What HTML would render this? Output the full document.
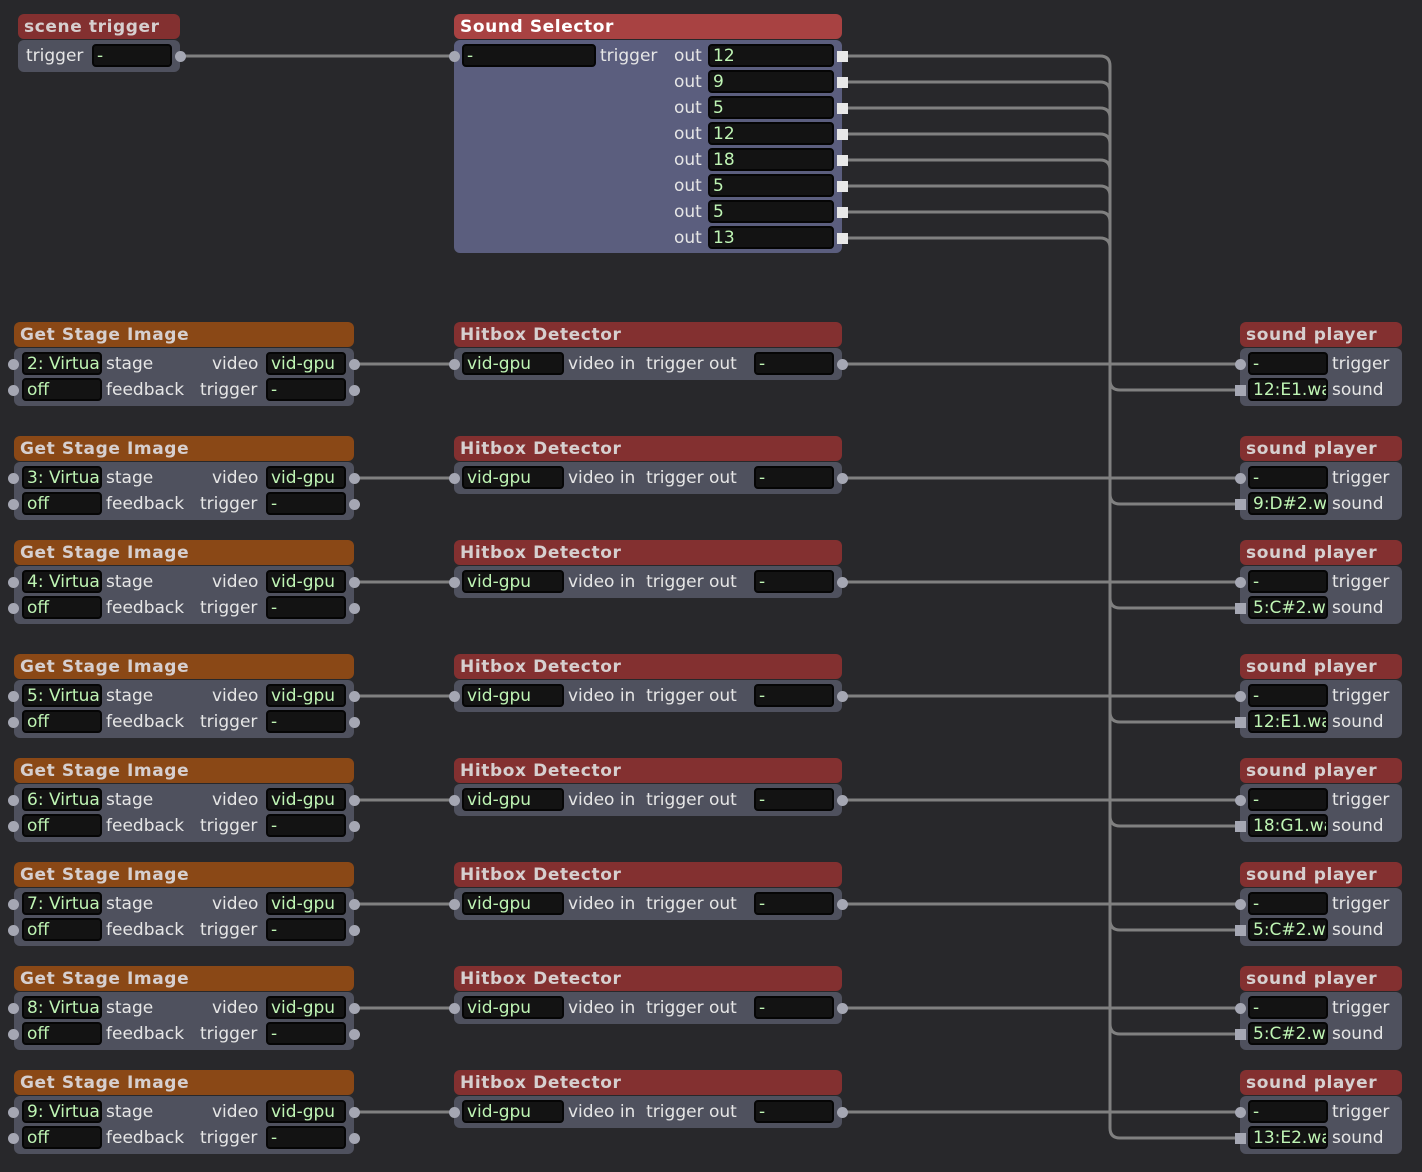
<!DOCTYPE html>
<html><head><meta charset="utf-8"><style>
body{margin:0;width:1422px;height:1172px;background:#28282b;position:relative;overflow:hidden;font-family:"DejaVu Sans","Liberation Sans",sans-serif;}
div{position:absolute;box-sizing:border-box;}
.h{height:25px;border-radius:6px;font-weight:bold;font-size:17px;color:#d6cfcf;padding-left:6px;line-height:26px;letter-spacing:.6px;white-space:nowrap}
.hr{background:#833030}.ho{background:#8a4816}
.b{background:#4f515e;border-radius:6px}
.f{height:23px;background:#131313;border:2px solid #050505;border-radius:4px;color:#bff5b4;font-size:17px;line-height:20px;padding-left:3px;white-space:nowrap;overflow:hidden}
.t{color:#e6e6e6;font-size:17px;line-height:22px;white-space:nowrap}
.d{width:11px;height:11px;border-radius:50%;background:#a5a7b3}
.s{width:11px;height:11px;background:#e8e8e8}
.sq{width:11px;height:11px;background:#a5a7b3}
svg{position:absolute;left:0;top:0}
</style></head><body>
<svg width="1422" height="1172" fill="none" stroke="#808080" stroke-width="3">
<path d="M180 56H454"/>
<path d="M846 56H1100Q1110 56 1110 66V380Q1110 390 1120 390H1240"/>
<path d="M846 82H1100Q1110 82 1110 92V494Q1110 504 1120 504H1240"/>
<path d="M846 108H1100Q1110 108 1110 118V598Q1110 608 1120 608H1240"/>
<path d="M846 134H1100Q1110 134 1110 144V712Q1110 722 1120 722H1240"/>
<path d="M846 160H1100Q1110 160 1110 170V816Q1110 826 1120 826H1240"/>
<path d="M846 186H1100Q1110 186 1110 196V920Q1110 930 1120 930H1240"/>
<path d="M846 212H1100Q1110 212 1110 222V1024Q1110 1034 1120 1034H1240"/>
<path d="M846 238H1100Q1110 238 1110 248V1128Q1110 1138 1120 1138H1240"/>
<path d="M354 364H454M842 364H1240"/>
<path d="M354 478H454M842 478H1240"/>
<path d="M354 582H454M842 582H1240"/>
<path d="M354 696H454M842 696H1240"/>
<path d="M354 800H454M842 800H1240"/>
<path d="M354 904H454M842 904H1240"/>
<path d="M354 1008H454M842 1008H1240"/>
<path d="M354 1112H454M842 1112H1240"/>
</svg>

<!-- scene trigger -->
<div class="h hr" style="left:18px;top:14px;width:162px">scene trigger</div>
<div class="b" style="left:18px;top:40px;width:162px;height:32px"></div>
<div class="t" style="left:26px;top:45px">trigger</div>
<div class="f" style="left:92px;top:44px;width:80px">-</div>
<div class="d" style="left:175px;top:51px"></div>

<!-- Sound Selector -->
<div class="h" style="left:454px;top:14px;width:388px;background:#a84242;color:#fff">Sound Selector</div>
<div class="b" style="left:454px;top:40px;width:388px;height:213px;background:#5b5e7e"></div>
<div class="d" style="left:449px;top:51px"></div>
<div class="f" style="left:462px;top:44px;width:134px">-</div>
<div class="t" style="left:600px;top:45px">trigger</div>
<div class="t" style="left:674px;top:45px">out</div><div class="f" style="left:708px;top:44px;width:126px">12</div><div class="s" style="left:837px;top:51px"></div>
<div class="t" style="left:674px;top:71px">out</div><div class="f" style="left:708px;top:70px;width:126px">9</div><div class="s" style="left:837px;top:77px"></div>
<div class="t" style="left:674px;top:97px">out</div><div class="f" style="left:708px;top:96px;width:126px">5</div><div class="s" style="left:837px;top:103px"></div>
<div class="t" style="left:674px;top:123px">out</div><div class="f" style="left:708px;top:122px;width:126px">12</div><div class="s" style="left:837px;top:129px"></div>
<div class="t" style="left:674px;top:149px">out</div><div class="f" style="left:708px;top:148px;width:126px">18</div><div class="s" style="left:837px;top:155px"></div>
<div class="t" style="left:674px;top:175px">out</div><div class="f" style="left:708px;top:174px;width:126px">5</div><div class="s" style="left:837px;top:181px"></div>
<div class="t" style="left:674px;top:201px">out</div><div class="f" style="left:708px;top:200px;width:126px">5</div><div class="s" style="left:837px;top:207px"></div>
<div class="t" style="left:674px;top:227px">out</div><div class="f" style="left:708px;top:226px;width:126px">13</div><div class="s" style="left:837px;top:233px"></div>

<!-- rows -->
<div style="left:0;top:322px;width:1422px;height:90px">
<div class="h ho" style="left:14px;top:0;width:340px">Get Stage Image</div>
<div class="b" style="left:14px;top:26px;width:340px;height:58px"></div>
<div class="d" style="left:8px;top:37px"></div><div class="d" style="left:8px;top:63px"></div>
<div class="f" style="left:22px;top:30px;width:80px">2: Virtual</div><div class="t" style="left:106px;top:31px">stage</div>
<div class="t" style="left:212px;top:31px">video</div><div class="f" style="left:266px;top:30px;width:80px">vid-gpu</div>
<div class="f" style="left:22px;top:56px;width:80px">off</div><div class="t" style="left:106px;top:57px">feedback</div>
<div class="t" style="left:200px;top:57px">trigger</div><div class="f" style="left:266px;top:56px;width:80px">-</div>
<div class="d" style="left:349px;top:37px"></div><div class="d" style="left:349px;top:63px"></div>
<div class="h hr" style="left:454px;top:0;width:388px">Hitbox Detector</div>
<div class="b" style="left:454px;top:26px;width:388px;height:32px"></div>
<div class="d" style="left:449px;top:37px"></div><div class="f" style="left:462px;top:30px;width:102px">vid-gpu</div>
<div class="t" style="left:568px;top:31px">video in&nbsp; trigger out</div><div class="f" style="left:754px;top:30px;width:80px">-</div>
<div class="d" style="left:837px;top:37px"></div>
<div class="h hr" style="left:1240px;top:0;width:162px">sound player</div>
<div class="b" style="left:1240px;top:26px;width:162px;height:58px"></div>
<div class="d" style="left:1235px;top:37px"></div><div class="sq" style="left:1235px;top:63px"></div>
<div class="f" style="left:1248px;top:30px;width:80px">-</div><div class="t" style="left:1332px;top:31px">trigger</div>
<div class="f" style="left:1248px;top:56px;width:80px">12:E1.wav</div><div class="t" style="left:1332px;top:57px">sound</div>
</div>

<div style="left:0;top:436px;width:1422px;height:90px">
<div class="h ho" style="left:14px;top:0;width:340px">Get Stage Image</div>
<div class="b" style="left:14px;top:26px;width:340px;height:58px"></div>
<div class="d" style="left:8px;top:37px"></div><div class="d" style="left:8px;top:63px"></div>
<div class="f" style="left:22px;top:30px;width:80px">3: Virtual</div><div class="t" style="left:106px;top:31px">stage</div>
<div class="t" style="left:212px;top:31px">video</div><div class="f" style="left:266px;top:30px;width:80px">vid-gpu</div>
<div class="f" style="left:22px;top:56px;width:80px">off</div><div class="t" style="left:106px;top:57px">feedback</div>
<div class="t" style="left:200px;top:57px">trigger</div><div class="f" style="left:266px;top:56px;width:80px">-</div>
<div class="d" style="left:349px;top:37px"></div><div class="d" style="left:349px;top:63px"></div>
<div class="h hr" style="left:454px;top:0;width:388px">Hitbox Detector</div>
<div class="b" style="left:454px;top:26px;width:388px;height:32px"></div>
<div class="d" style="left:449px;top:37px"></div><div class="f" style="left:462px;top:30px;width:102px">vid-gpu</div>
<div class="t" style="left:568px;top:31px">video in&nbsp; trigger out</div><div class="f" style="left:754px;top:30px;width:80px">-</div>
<div class="d" style="left:837px;top:37px"></div>
<div class="h hr" style="left:1240px;top:0;width:162px">sound player</div>
<div class="b" style="left:1240px;top:26px;width:162px;height:58px"></div>
<div class="d" style="left:1235px;top:37px"></div><div class="sq" style="left:1235px;top:63px"></div>
<div class="f" style="left:1248px;top:30px;width:80px">-</div><div class="t" style="left:1332px;top:31px">trigger</div>
<div class="f" style="left:1248px;top:56px;width:80px">9:D#2.wav</div><div class="t" style="left:1332px;top:57px">sound</div>
</div>

<div style="left:0;top:540px;width:1422px;height:90px">
<div class="h ho" style="left:14px;top:0;width:340px">Get Stage Image</div>
<div class="b" style="left:14px;top:26px;width:340px;height:58px"></div>
<div class="d" style="left:8px;top:37px"></div><div class="d" style="left:8px;top:63px"></div>
<div class="f" style="left:22px;top:30px;width:80px">4: Virtual</div><div class="t" style="left:106px;top:31px">stage</div>
<div class="t" style="left:212px;top:31px">video</div><div class="f" style="left:266px;top:30px;width:80px">vid-gpu</div>
<div class="f" style="left:22px;top:56px;width:80px">off</div><div class="t" style="left:106px;top:57px">feedback</div>
<div class="t" style="left:200px;top:57px">trigger</div><div class="f" style="left:266px;top:56px;width:80px">-</div>
<div class="d" style="left:349px;top:37px"></div><div class="d" style="left:349px;top:63px"></div>
<div class="h hr" style="left:454px;top:0;width:388px">Hitbox Detector</div>
<div class="b" style="left:454px;top:26px;width:388px;height:32px"></div>
<div class="d" style="left:449px;top:37px"></div><div class="f" style="left:462px;top:30px;width:102px">vid-gpu</div>
<div class="t" style="left:568px;top:31px">video in&nbsp; trigger out</div><div class="f" style="left:754px;top:30px;width:80px">-</div>
<div class="d" style="left:837px;top:37px"></div>
<div class="h hr" style="left:1240px;top:0;width:162px">sound player</div>
<div class="b" style="left:1240px;top:26px;width:162px;height:58px"></div>
<div class="d" style="left:1235px;top:37px"></div><div class="sq" style="left:1235px;top:63px"></div>
<div class="f" style="left:1248px;top:30px;width:80px">-</div><div class="t" style="left:1332px;top:31px">trigger</div>
<div class="f" style="left:1248px;top:56px;width:80px">5:C#2.wav</div><div class="t" style="left:1332px;top:57px">sound</div>
</div>

<div style="left:0;top:654px;width:1422px;height:90px">
<div class="h ho" style="left:14px;top:0;width:340px">Get Stage Image</div>
<div class="b" style="left:14px;top:26px;width:340px;height:58px"></div>
<div class="d" style="left:8px;top:37px"></div><div class="d" style="left:8px;top:63px"></div>
<div class="f" style="left:22px;top:30px;width:80px">5: Virtual</div><div class="t" style="left:106px;top:31px">stage</div>
<div class="t" style="left:212px;top:31px">video</div><div class="f" style="left:266px;top:30px;width:80px">vid-gpu</div>
<div class="f" style="left:22px;top:56px;width:80px">off</div><div class="t" style="left:106px;top:57px">feedback</div>
<div class="t" style="left:200px;top:57px">trigger</div><div class="f" style="left:266px;top:56px;width:80px">-</div>
<div class="d" style="left:349px;top:37px"></div><div class="d" style="left:349px;top:63px"></div>
<div class="h hr" style="left:454px;top:0;width:388px">Hitbox Detector</div>
<div class="b" style="left:454px;top:26px;width:388px;height:32px"></div>
<div class="d" style="left:449px;top:37px"></div><div class="f" style="left:462px;top:30px;width:102px">vid-gpu</div>
<div class="t" style="left:568px;top:31px">video in&nbsp; trigger out</div><div class="f" style="left:754px;top:30px;width:80px">-</div>
<div class="d" style="left:837px;top:37px"></div>
<div class="h hr" style="left:1240px;top:0;width:162px">sound player</div>
<div class="b" style="left:1240px;top:26px;width:162px;height:58px"></div>
<div class="d" style="left:1235px;top:37px"></div><div class="sq" style="left:1235px;top:63px"></div>
<div class="f" style="left:1248px;top:30px;width:80px">-</div><div class="t" style="left:1332px;top:31px">trigger</div>
<div class="f" style="left:1248px;top:56px;width:80px">12:E1.wav</div><div class="t" style="left:1332px;top:57px">sound</div>
</div>

<div style="left:0;top:758px;width:1422px;height:90px">
<div class="h ho" style="left:14px;top:0;width:340px">Get Stage Image</div>
<div class="b" style="left:14px;top:26px;width:340px;height:58px"></div>
<div class="d" style="left:8px;top:37px"></div><div class="d" style="left:8px;top:63px"></div>
<div class="f" style="left:22px;top:30px;width:80px">6: Virtual</div><div class="t" style="left:106px;top:31px">stage</div>
<div class="t" style="left:212px;top:31px">video</div><div class="f" style="left:266px;top:30px;width:80px">vid-gpu</div>
<div class="f" style="left:22px;top:56px;width:80px">off</div><div class="t" style="left:106px;top:57px">feedback</div>
<div class="t" style="left:200px;top:57px">trigger</div><div class="f" style="left:266px;top:56px;width:80px">-</div>
<div class="d" style="left:349px;top:37px"></div><div class="d" style="left:349px;top:63px"></div>
<div class="h hr" style="left:454px;top:0;width:388px">Hitbox Detector</div>
<div class="b" style="left:454px;top:26px;width:388px;height:32px"></div>
<div class="d" style="left:449px;top:37px"></div><div class="f" style="left:462px;top:30px;width:102px">vid-gpu</div>
<div class="t" style="left:568px;top:31px">video in&nbsp; trigger out</div><div class="f" style="left:754px;top:30px;width:80px">-</div>
<div class="d" style="left:837px;top:37px"></div>
<div class="h hr" style="left:1240px;top:0;width:162px">sound player</div>
<div class="b" style="left:1240px;top:26px;width:162px;height:58px"></div>
<div class="d" style="left:1235px;top:37px"></div><div class="sq" style="left:1235px;top:63px"></div>
<div class="f" style="left:1248px;top:30px;width:80px">-</div><div class="t" style="left:1332px;top:31px">trigger</div>
<div class="f" style="left:1248px;top:56px;width:80px">18:G1.wav</div><div class="t" style="left:1332px;top:57px">sound</div>
</div>

<div style="left:0;top:862px;width:1422px;height:90px">
<div class="h ho" style="left:14px;top:0;width:340px">Get Stage Image</div>
<div class="b" style="left:14px;top:26px;width:340px;height:58px"></div>
<div class="d" style="left:8px;top:37px"></div><div class="d" style="left:8px;top:63px"></div>
<div class="f" style="left:22px;top:30px;width:80px">7: Virtual</div><div class="t" style="left:106px;top:31px">stage</div>
<div class="t" style="left:212px;top:31px">video</div><div class="f" style="left:266px;top:30px;width:80px">vid-gpu</div>
<div class="f" style="left:22px;top:56px;width:80px">off</div><div class="t" style="left:106px;top:57px">feedback</div>
<div class="t" style="left:200px;top:57px">trigger</div><div class="f" style="left:266px;top:56px;width:80px">-</div>
<div class="d" style="left:349px;top:37px"></div><div class="d" style="left:349px;top:63px"></div>
<div class="h hr" style="left:454px;top:0;width:388px">Hitbox Detector</div>
<div class="b" style="left:454px;top:26px;width:388px;height:32px"></div>
<div class="d" style="left:449px;top:37px"></div><div class="f" style="left:462px;top:30px;width:102px">vid-gpu</div>
<div class="t" style="left:568px;top:31px">video in&nbsp; trigger out</div><div class="f" style="left:754px;top:30px;width:80px">-</div>
<div class="d" style="left:837px;top:37px"></div>
<div class="h hr" style="left:1240px;top:0;width:162px">sound player</div>
<div class="b" style="left:1240px;top:26px;width:162px;height:58px"></div>
<div class="d" style="left:1235px;top:37px"></div><div class="sq" style="left:1235px;top:63px"></div>
<div class="f" style="left:1248px;top:30px;width:80px">-</div><div class="t" style="left:1332px;top:31px">trigger</div>
<div class="f" style="left:1248px;top:56px;width:80px">5:C#2.wav</div><div class="t" style="left:1332px;top:57px">sound</div>
</div>

<div style="left:0;top:966px;width:1422px;height:90px">
<div class="h ho" style="left:14px;top:0;width:340px">Get Stage Image</div>
<div class="b" style="left:14px;top:26px;width:340px;height:58px"></div>
<div class="d" style="left:8px;top:37px"></div><div class="d" style="left:8px;top:63px"></div>
<div class="f" style="left:22px;top:30px;width:80px">8: Virtual</div><div class="t" style="left:106px;top:31px">stage</div>
<div class="t" style="left:212px;top:31px">video</div><div class="f" style="left:266px;top:30px;width:80px">vid-gpu</div>
<div class="f" style="left:22px;top:56px;width:80px">off</div><div class="t" style="left:106px;top:57px">feedback</div>
<div class="t" style="left:200px;top:57px">trigger</div><div class="f" style="left:266px;top:56px;width:80px">-</div>
<div class="d" style="left:349px;top:37px"></div><div class="d" style="left:349px;top:63px"></div>
<div class="h hr" style="left:454px;top:0;width:388px">Hitbox Detector</div>
<div class="b" style="left:454px;top:26px;width:388px;height:32px"></div>
<div class="d" style="left:449px;top:37px"></div><div class="f" style="left:462px;top:30px;width:102px">vid-gpu</div>
<div class="t" style="left:568px;top:31px">video in&nbsp; trigger out</div><div class="f" style="left:754px;top:30px;width:80px">-</div>
<div class="d" style="left:837px;top:37px"></div>
<div class="h hr" style="left:1240px;top:0;width:162px">sound player</div>
<div class="b" style="left:1240px;top:26px;width:162px;height:58px"></div>
<div class="d" style="left:1235px;top:37px"></div><div class="sq" style="left:1235px;top:63px"></div>
<div class="f" style="left:1248px;top:30px;width:80px">-</div><div class="t" style="left:1332px;top:31px">trigger</div>
<div class="f" style="left:1248px;top:56px;width:80px">5:C#2.wav</div><div class="t" style="left:1332px;top:57px">sound</div>
</div>

<div style="left:0;top:1070px;width:1422px;height:90px">
<div class="h ho" style="left:14px;top:0;width:340px">Get Stage Image</div>
<div class="b" style="left:14px;top:26px;width:340px;height:58px"></div>
<div class="d" style="left:8px;top:37px"></div><div class="d" style="left:8px;top:63px"></div>
<div class="f" style="left:22px;top:30px;width:80px">9: Virtual</div><div class="t" style="left:106px;top:31px">stage</div>
<div class="t" style="left:212px;top:31px">video</div><div class="f" style="left:266px;top:30px;width:80px">vid-gpu</div>
<div class="f" style="left:22px;top:56px;width:80px">off</div><div class="t" style="left:106px;top:57px">feedback</div>
<div class="t" style="left:200px;top:57px">trigger</div><div class="f" style="left:266px;top:56px;width:80px">-</div>
<div class="d" style="left:349px;top:37px"></div><div class="d" style="left:349px;top:63px"></div>
<div class="h hr" style="left:454px;top:0;width:388px">Hitbox Detector</div>
<div class="b" style="left:454px;top:26px;width:388px;height:32px"></div>
<div class="d" style="left:449px;top:37px"></div><div class="f" style="left:462px;top:30px;width:102px">vid-gpu</div>
<div class="t" style="left:568px;top:31px">video in&nbsp; trigger out</div><div class="f" style="left:754px;top:30px;width:80px">-</div>
<div class="d" style="left:837px;top:37px"></div>
<div class="h hr" style="left:1240px;top:0;width:162px">sound player</div>
<div class="b" style="left:1240px;top:26px;width:162px;height:58px"></div>
<div class="d" style="left:1235px;top:37px"></div><div class="sq" style="left:1235px;top:63px"></div>
<div class="f" style="left:1248px;top:30px;width:80px">-</div><div class="t" style="left:1332px;top:31px">trigger</div>
<div class="f" style="left:1248px;top:56px;width:80px">13:E2.wav</div><div class="t" style="left:1332px;top:57px">sound</div>
</div>
</body></html>
